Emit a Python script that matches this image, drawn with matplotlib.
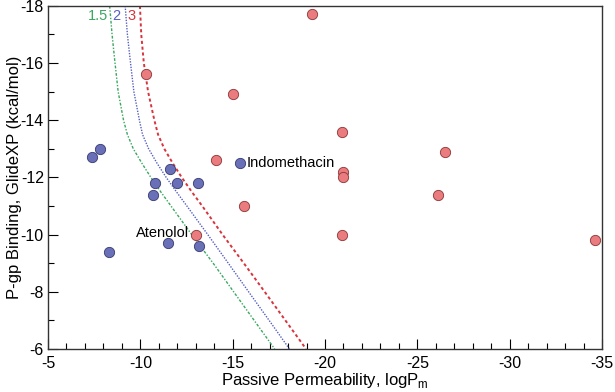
import matplotlib
matplotlib.use("Agg")
import matplotlib.pyplot as plt
from matplotlib.ticker import MultipleLocator

plt.rcParams['font.family'] = ['Liberation Sans', 'DejaVu Sans']
plt.rcParams['axes.unicode_minus'] = False

# compounds (x = passive permeability logPm, y = GlideXP binding)
blue_x = [-7.4, -7.8, -8.3, -10.8, -10.7, -11.6, -12.0, -13.1, -15.4, -11.5, -13.2]
blue_y = [-12.7, -13.0, -9.4, -11.8, -11.4, -12.3, -11.8, -11.8, -12.5, -9.7, -9.6]

red_x = [-10.3, -15.0, -14.1, -19.3, -20.9, -26.5, -21.0, -21.0, -26.1, -15.6, -13.0, -20.9, -34.6]
red_y = [-15.6, -14.9, -12.6, -17.7, -13.6, -12.9, -12.2, -12.0, -11.4, -11.0, -10.0, -10.0, -9.8]

# iso-ratio curves
curve_y = [-18, -17, -16, -15, -14, -13.5, -13, -12.5, -12, -11.5, -11, -10, -9, -8, -7, -6]
curve15_x = [-8.34, -8.47, -8.63, -8.80, -9.09, -9.30, -9.62, -10.08, -10.57, -11.10, -11.66,
             -12.78, -13.94, -15.05, -16.16, -17.27]
curve2_x = [-9.18, -9.30, -9.47, -9.65, -9.95, -10.12, -10.45, -10.90, -11.40, -11.95, -12.52,
            -13.65, -14.76, -15.86, -16.97, -18.07]
curve3_x = [-9.98, -10.05, -10.19, -10.42, -10.76, -10.96, -11.30, -11.75, -12.24, -12.78, -13.35,
            -14.45, -15.60, -16.73, -17.85, -18.97]

fig, ax = plt.subplots(figsize=(6.15, 3.92), dpi=100)
fig.subplots_adjust(left=0.078, right=0.979, top=0.985, bottom=0.110)

ax.plot(curve15_x, curve_y, color='#3aa860', lw=1.0, ls=(0, (2, 1.2, 1, 1.2)))
ax.plot(curve2_x, curve_y, color='#5560c0', lw=1.0, ls=(0, (1, 1)))
ax.plot(curve3_x, curve_y, color='#d8343e', lw=1.4, ls=(0, (1.6, 1.4)))

ax.text(-7.7, -17.65, '1.5', color='#3aa860', fontsize=10.5, ha='center', va='center')
ax.text(-8.72, -17.65, '2', color='#5560c0', fontsize=10.5, ha='center', va='center')
ax.text(-9.52, -17.65, '3', color='#d8343e', fontsize=10.5, ha='center', va='center')

ax.scatter(blue_x, blue_y, s=55, color='#6a70b8', edgecolor='#353a70', linewidth=0.6, zorder=3)
ax.scatter(red_x, red_y, s=55, color='#ea7b7e', edgecolor='#8a3535', linewidth=0.6, zorder=3)

ax.text(-15.75, -12.5, 'Indomethacin', fontsize=10.5, ha='left', va='center')
ax.text(-12.65, -10.05, 'Atenolol', fontsize=10.5, ha='right', va='center')

ax.set_xlim(-5, -35)
ax.set_ylim(-6, -18)
ax.xaxis.set_major_locator(MultipleLocator(5))
ax.xaxis.set_minor_locator(MultipleLocator(1))
ax.yaxis.set_major_locator(MultipleLocator(2))
ax.yaxis.set_minor_locator(MultipleLocator(1))
ax.tick_params(which='major', direction='in', length=7, width=0.8, labelsize=11.5, pad=3)
ax.tick_params(axis='x', which='major', pad=5)
ax.tick_params(which='minor', direction='in', length=4, width=0.8)
for s in ax.spines.values():
    s.set_color('#333333')
    s.set_linewidth(1.0)

ax.set_xlabel('Passive Permeability, logP$_{\\mathregular{m}}$', fontsize=12, labelpad=0)
ax.set_ylabel('P-gp Binding, GlideXP (kcal/mol)', fontsize=12)
ax.yaxis.set_label_coords(-0.047, 0.5)

fig.savefig('out.png', dpi=100)
